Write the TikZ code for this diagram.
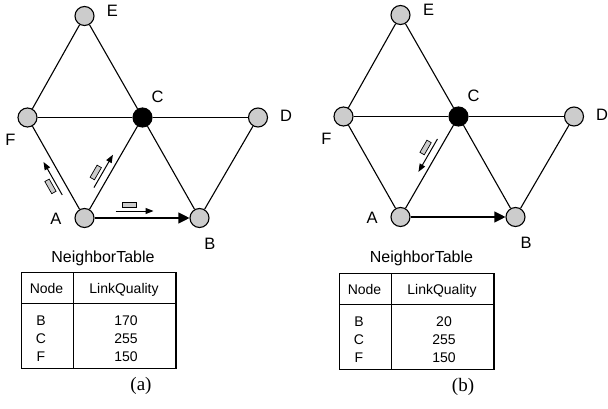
\documentclass[tikz,border=0pt]{standalone}
\usepackage{fontspec}
\setmainfont{Liberation Sans}
\newfontfamily\capfont{Liberation Serif}
\usetikzlibrary{arrows.meta,calc}
\begin{document}
\begin{tikzpicture}[x=1pt,y=-1pt,
  nd/.style={circle,draw,line width=1.1pt,fill=gray!40,minimum size=19pt,inner sep=0pt},
  hub/.style={nd,fill=black},
  link/.style={line width=1.1pt},
  bigarrow/.style={link,-{Triangle[length=11pt,width=11pt]}},
  lbl/.style={font=\fontsize{16.5}{18}\selectfont,inner sep=0pt},
  mv/.style={line width=1pt,-{Triangle[length=8pt,width=6pt]}},
  pkt/.style={draw,fill=gray!40,line width=0.7pt,minimum width=14pt,minimum height=5pt,inner sep=0pt,sloped},
  tbl/.style={line width=1.5pt},
  ttl/.style={font=\fontsize{16}{18}\selectfont,inner sep=0pt,anchor=base},
  cell/.style={font=\fontsize{14}{16}\selectfont,inner sep=0pt,anchor=base},
  subcap/.style={font=\capfont\fontsize{19}{21}\selectfont,inner sep=0pt,anchor=base}]
\useasboundingbox (0,0) rectangle (608,409);

% ---------------- (a) ----------------
\node[nd]  (aE) at (84.5,16) {};
\node[nd]  (aF) at (27.5,117.5) {};
\node[hub] (aC) at (142.5,117.5) {};
\node[nd]  (aD) at (258,117.5) {};
\node[nd]  (aA) at (84.5,218) {};
\node[nd]  (aB) at (199.5,218) {};
\draw[link] (aE) -- (aF);
\draw[link] (aE) -- (aC);
\draw[link] (aF) -- (aC);
\draw[link] (aC) -- (aD);
\draw[link] (aF) -- (aA);
\draw[link] (aA) -- (aC);
\draw[link] (aC) -- (aB);
\draw[link] (aD) -- (aB);
\draw[bigarrow] (aA) -- (aB);
\node[lbl] (aEl) at (112.5,11) {E};
\node[lbl] (aCl) at (157.5,97) {C};
\node[lbl] (aDl) at (286,116) {D};
\node[lbl] (aFl) at (10.5,140) {F};
\node[lbl] (aAl) at (56,219) {A};
\node[lbl] (aBl) at (210,244) {B};
% moving packets
\draw[mv] ($(aA)!31pt!(aB)!7pt!90:(aB)$) -- ($(aA)!69pt!(aB)!7pt!90:(aB)$);
\path ($(aA)!31pt!(aB)!13pt!90:(aB)$) -- ($(aA)!69pt!(aB)!13pt!90:(aB)$) node[pkt,pos=0.37] (aP1) {};
\draw[mv] ($(aA)!31pt!(aC)!7pt!90:(aC)$) -- ($(aA)!69pt!(aC)!7pt!90:(aC)$);
\path ($(aA)!31pt!(aC)!13pt!90:(aC)$) -- ($(aA)!69pt!(aC)!13pt!90:(aC)$) node[pkt,pos=0.37] (aP2) {};
\draw[mv] ($(aA)!31pt!(aF)!8pt!90:(aF)$) -- ($(aA)!69pt!(aF)!8pt!90:(aF)$);
\path ($(aA)!31pt!(aF)!14pt!90:(aF)$) -- ($(aA)!69pt!(aF)!14pt!90:(aF)$) node[pkt,pos=0.35] (aP3) {};
% table
\node[ttl] (aTT) at (103,262) {NeighborTable};
\draw[tbl] (21.5,272.5) rectangle (176,368.5);
\draw[tbl] (73.5,272.5) -- (73.5,368.5);
\draw[tbl] (21.5,303.5) -- (176,303.5);
\node[cell] (aH1) at (46.5,293.5) {Node};
\node[cell] (aH2) at (124,293.5) {LinkQuality};
\node[cell] (aR1) at (41,325) {B};
\node[cell] (aR2) at (41,343) {C};
\node[cell] (aR3) at (41,361) {F};
\node[cell] (aV1) at (126,325) {170};
\node[cell] (aV2) at (126,343) {255};
\node[cell] (aV3) at (126,361) {150};
\node[subcap] (aCap) at (141,390) {(a)};

% ---------------- (b) ----------------
\begin{scope}[shift={(316,-1)}]
\node[nd]  (bE) at (84.5,16) {};
\node[nd]  (bF) at (27.5,117.5) {};
\node[hub] (bC) at (142.5,117.5) {};
\node[nd]  (bD) at (258,117.5) {};
\node[nd]  (bA) at (84.5,218) {};
\node[nd]  (bB) at (199.5,218) {};
\draw[link] (bE) -- (bF);
\draw[link] (bE) -- (bC);
\draw[link] (bF) -- (bC);
\draw[link] (bC) -- (bD);
\draw[link] (bF) -- (bA);
\draw[link] (bA) -- (bC);
\draw[link] (bC) -- (bB);
\draw[link] (bD) -- (bB);
\draw[bigarrow] (bA) -- (bB);
\node[lbl] (bEl) at (112.5,11) {E};
\node[lbl] (bCl) at (157.5,97) {C};
\node[lbl] (bDl) at (286,116) {D};
\node[lbl] (bFl) at (10.5,140) {F};
\node[lbl] (bAl) at (56,219) {A};
\node[lbl] (bBl) at (210,244) {B};
\draw[mv] ($(bC)!30pt!(bA)!7pt!-90:(bA)$) -- ($(bC)!68pt!(bA)!7pt!-90:(bA)$);
\path ($(bC)!30pt!(bA)!13pt!-90:(bA)$) -- ($(bC)!68pt!(bA)!13pt!-90:(bA)$) node[pkt,pos=0.35] (bP1) {};
\end{scope}
\begin{scope}[shift={(318,1)}]
\node[ttl] (bTT) at (103.5,261) {NeighborTable};
\draw[tbl] (21.5,272.5) rectangle (176,368.5);
\draw[tbl] (73.5,272.5) -- (73.5,368.5);
\draw[tbl] (21.5,303.5) -- (176,303.5);
\node[cell] (bH1) at (46.5,293.5) {Node};
\node[cell] (bH2) at (124,293.5) {LinkQuality};
\node[cell] (bR1) at (41,325) {B};
\node[cell] (bR2) at (41,343) {C};
\node[cell] (bR3) at (41,361) {F};
\node[cell] (bV1) at (126,325) {20};
\node[cell] (bV2) at (126,343) {255};
\node[cell] (bV3) at (126,361) {150};
\node[subcap] (bCap) at (145,390) {(b)};
\end{scope}
\end{tikzpicture}
\end{document}
